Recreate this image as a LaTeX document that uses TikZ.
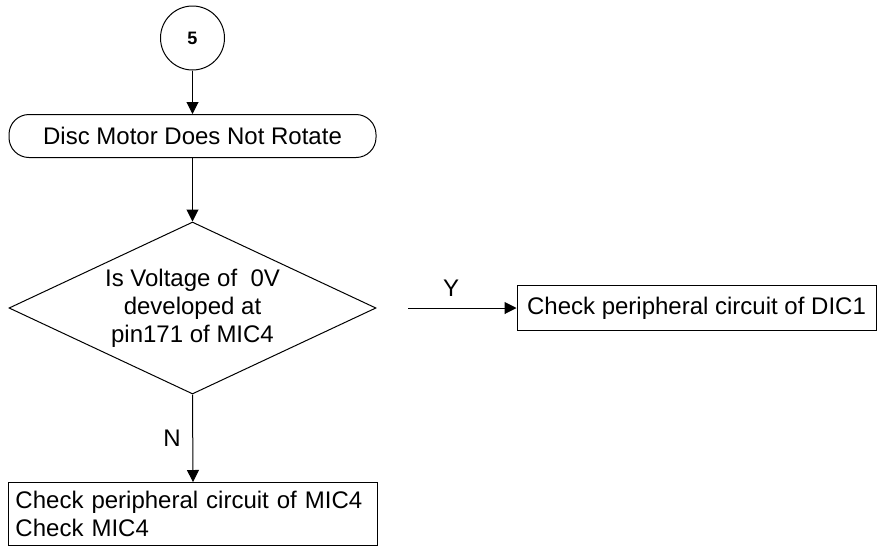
\documentclass[tikz,border=0pt]{standalone}
\usepackage{fontspec}
\setmainfont{Liberation Sans}
\usetikzlibrary{shapes.geometric,arrows.meta}

\begin{document}
\begin{tikzpicture}[x=0.5pt,y=-0.5pt,line width=0.5pt,
		every node/.style={font=\fontsize{12}{14}\selectfont},
		box/.style={draw, rectangle, inner sep=0pt},
		arr/.style={-{Triangle[length=6pt,width=6pt]}}]
		\useasboundingbox (0,0) rectangle (877,547);
		
		% START AND FIRST STEP
		\node[draw, circle, minimum size=32pt, inner sep=0pt, font=\fontsize{9}{11}\selectfont\bfseries] (start) at (192.5,38) {5};
		\node[box, rounded corners=10pt, minimum width=183.5pt, minimum height=21.5pt] (motor) at (192.5,136) {Disc Motor Does Not Rotate};
		
		% DECISION
		\node[draw, diamond, aspect=2.13, minimum width=183.5pt, minimum height=86pt, inner sep=0pt, align=center] (volt) at (192.5,308) {Is Voltage of\ \ 0V\\developed at\\pin171 of MIC4};
		
		% RESULTS
		\node[box, minimum width=179.5pt, minimum height=22.5pt] (dic) at (696.5,308) {Check peripheral circuit of DIC1};
		\node[box, anchor=north west, minimum width=184.5pt, minimum height=31.5pt, text width=177.5pt, inner xsep=3.5pt, align=left] (mic) at (8,482) {Check peripheral circuit of MIC4\\Check MIC4};
		
		% ARROWS
		\draw[arr] (start) -- (motor);
		\draw[arr] (motor) -- (volt);
		\coordinate (yfrom) at (408,308);
		\draw[arr] (yfrom) -- (dic.west);
		\node (ylab) at (451,288) {Y};
		\draw[arr] (volt.south) -- (mic.north);
		\node (nlab) at (172,438) {N};
	\end{tikzpicture}
\end{document}
